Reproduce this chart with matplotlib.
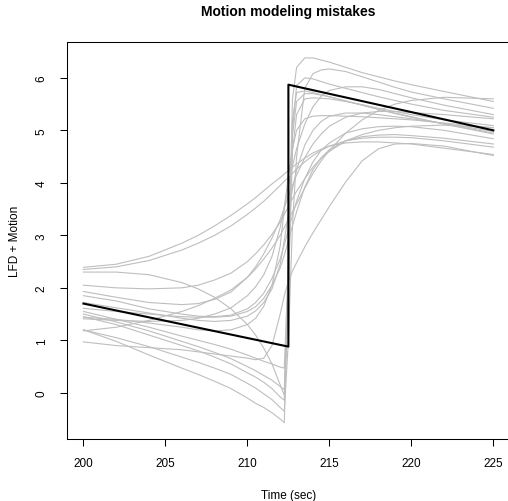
import numpy as np
import matplotlib
matplotlib.use("Agg")
import matplotlib.pyplot as plt

plt.rcParams['font.family'] = ['Liberation Sans', 'DejaVu Sans']

# %%
# time grid shared by the fitted curves (sec)
t_grid = [200, 202, 204, 206, 207, 208, 209, 210, 210.5, 211, 211.5, 212, 212.25,
          212.5, 212.75, 213, 213.5, 214, 214.5, 215, 216, 217, 218, 219, 220, 222, 225]

# sharp curves (ringing around the step)
sharp_1 = [1.2, 0.98, 0.72, 0.47, 0.35, 0.22, 0.08, -0.1, -0.2, -0.28, -0.38, -0.5, -0.57,
           2.5, 5.6, 6.2, 6.38, 6.38, 6.34, 6.3, 6.2, 6.1, 6.02, 5.94, 5.87, 5.74, 5.55]
sharp_2 = [1.2, 1.05, 0.88, 0.68, 0.58, 0.47, 0.35, 0.18, 0.09, -0.02, -0.13, -0.28, -0.35,
           1.0, 3.2, 4.5, 5.8, 6.08, 6.15, 6.17, 6.12, 6.02, 5.92, 5.82, 5.73, 5.6, 5.42]
sharp_3 = [1.45, 1.3, 1.1, 0.9, 0.8, 0.68, 0.55, 0.38, 0.3, 0.2, 0.08, -0.08, -0.14,
           2.0, 5.0, 5.85, 6.0, 5.98, 5.93, 5.88, 5.8, 5.72, 5.64, 5.57, 5.5, 5.38, 5.25]
sharp_4 = [1.55, 1.4, 1.25, 1.08, 1.0, 0.92, 0.83, 0.72, 0.66, 0.6, 0.55, 0.49, 0.47,
           2.5, 5.2, 5.72, 5.75, 5.72, 5.68, 5.64, 5.56, 5.48, 5.4, 5.33, 5.26, 5.12, 4.95]
sharp_5 = [1.5, 1.35, 1.18, 0.98, 0.88, 0.77, 0.65, 0.5, 0.42, 0.33, 0.24, 0.12, 0.06,
           2.2, 4.9, 5.55, 5.7, 5.7, 5.67, 5.64, 5.56, 5.48, 5.4, 5.32, 5.25, 5.12, 4.93]
sharp_6 = [2.3, 2.3, 2.25, 2.1, 1.98, 1.82, 1.6, 1.3, 1.1, 0.85, 0.55, 0.15, -0.05,
           2.0, 4.6, 5.3, 5.6, 5.62, 5.61, 5.6, 5.55, 5.49, 5.42, 5.36, 5.3, 5.2, 5.09]

# smooth curves
smooth_1 = [2.39, 2.45, 2.6, 2.85, 3.0, 3.18, 3.38, 3.6, 3.72, 3.85, 3.98, 4.1, 4.17,
            4.23, 4.3, 4.36, 4.47, 4.57, 4.64, 4.7, 4.76, 4.78, 4.78, 4.76, 4.74, 4.66, 4.54]
smooth_2 = [2.35, 2.4, 2.52, 2.72, 2.85, 3.0, 3.18, 3.4, 3.52, 3.65, 3.8, 3.95, 4.03,
            4.1, 4.18, 4.26, 4.4, 4.52, 4.62, 4.7, 4.8, 4.85, 4.87, 4.87, 4.86, 4.8, 4.68]
smooth_3 = [2.05, 2.0, 1.98, 2.0, 2.05, 2.15, 2.28, 2.5, 2.65, 2.82, 3.02, 3.25, 3.4,
            3.55, 3.7, 3.84, 4.08, 4.3, 4.47, 4.6, 4.8, 4.92, 5.0, 5.05, 5.08, 5.1, 5.05]
smooth_4 = [1.93, 1.82, 1.72, 1.68, 1.7, 1.78, 1.92, 2.2, 2.4, 2.65, 2.95, 3.3, 3.52,
            3.75, 3.95, 4.15, 4.48, 4.74, 4.93, 5.08, 5.25, 5.33, 5.36, 5.36, 5.34, 5.3, 5.22]
smooth_5 = [1.85, 1.75, 1.6, 1.5, 1.46, 1.45, 1.48, 1.6, 1.72, 1.9, 2.18, 2.55, 2.82,
            3.1, 3.38, 3.65, 4.08, 4.4, 4.62, 4.76, 4.95, 5.03, 5.07, 5.08, 5.07, 5.0, 4.84]
smooth_6 = [1.61, 1.55, 1.5, 1.45, 1.44, 1.44, 1.46, 1.55, 1.64, 1.8, 2.05, 2.38, 2.62,
            2.9, 3.18, 3.45, 3.92, 4.25, 4.48, 4.63, 4.8, 4.88, 4.91, 4.92, 4.9, 4.85, 4.74]
smooth_7 = [1.41, 1.38, 1.36, 1.38, 1.42, 1.5, 1.62, 1.85, 2.02, 2.25, 2.6, 3.15, 3.55,
            3.95, 4.32, 4.65, 5.12, 5.45, 5.65, 5.76, 5.83, 5.83, 5.78, 5.7, 5.62, 5.48, 5.3]
smooth_8 = [1.44, 1.4, 1.33, 1.25, 1.2, 1.18, 1.2, 1.3, 1.42, 1.65, 2.05, 2.8, 3.5,
            4.15, 4.65, 5.0, 5.22, 5.27, 5.28, 5.28, 5.27, 5.26, 5.24, 5.22, 5.2, 5.14, 5.05]
smooth_9 = [1.18, 1.25, 1.38, 1.55, 1.66, 1.8, 1.96, 2.2, 2.36, 2.55, 2.76, 3.0, 3.15,
            3.3, 3.45, 3.6, 3.9, 4.18, 4.42, 4.62, 4.95, 5.2, 5.38, 5.5, 5.57, 5.63, 5.6]
smooth_10 = [1.72, 1.62, 1.52, 1.42, 1.38, 1.36, 1.38, 1.46, 1.56, 1.72, 1.98, 2.45, 2.9,
             3.4, 3.88, 4.25, 4.72, 5.0, 5.17, 5.27, 5.33, 5.33, 5.3, 5.26, 5.22, 5.13, 4.98]

# delayed curve
delayed = [0.97, 0.9, 0.86, 0.82, 0.78, 0.74, 0.7, 0.66, 0.63, 0.66, 0.9, 1.5, 1.85,
           2.12, 2.32, 2.48, 2.78, 3.05, 3.3, 3.55, 4.02, 4.42, 4.65, 4.74, 4.75, 4.7, 4.52]

curves = [sharp_1, sharp_2, sharp_3, sharp_4, sharp_5, sharp_6,
          smooth_1, smooth_2, smooth_3, smooth_4, smooth_5, smooth_6, smooth_7,
          smooth_8, smooth_9, smooth_10, delayed]

# true LFD + motion (step)
black_t = [200, 212.5, 212.5, 225]
black_v = [1.7, 0.88, 5.87, 5.0]

# %%
fig = plt.figure(figsize=(5.08, 5.02), dpi=100)
ax = fig.add_axes([0.132, 0.1235, 0.8714, 0.7905])

for c in curves:
    ax.plot(t_grid, c, color='#BEBEBE', lw=0.8)
ax.plot(black_t, black_v, color='black', lw=1.5)

ax.set_xlim(199, 226)
ax.set_ylim(-0.88, 6.68)
ax.set_xticks([200, 205, 210, 215, 220, 225])
ax.set_yticks([0, 1, 2, 3, 4, 5, 6])
ax.tick_params(length=5, width=0.75, labelsize=8.5, pad=8)
ax.tick_params(axis='y', pad=9)
for lab in ax.get_yticklabels():
    lab.set_rotation(90)
    lab.set_va('center')
for s in ax.spines.values():
    s.set_linewidth(0.75)
ax.spines['right'].set_visible(False)

ax.set_xlabel("Time (sec)", fontsize=8.5, labelpad=14)
ax.set_ylabel("LFD + Motion", fontsize=8.5, labelpad=10.5)
fig.text(0.567, 0.976, "Motion modeling mistakes", ha='center', va='center',
         fontsize=10, fontweight='bold')

plt.savefig("out.png", dpi=100)
